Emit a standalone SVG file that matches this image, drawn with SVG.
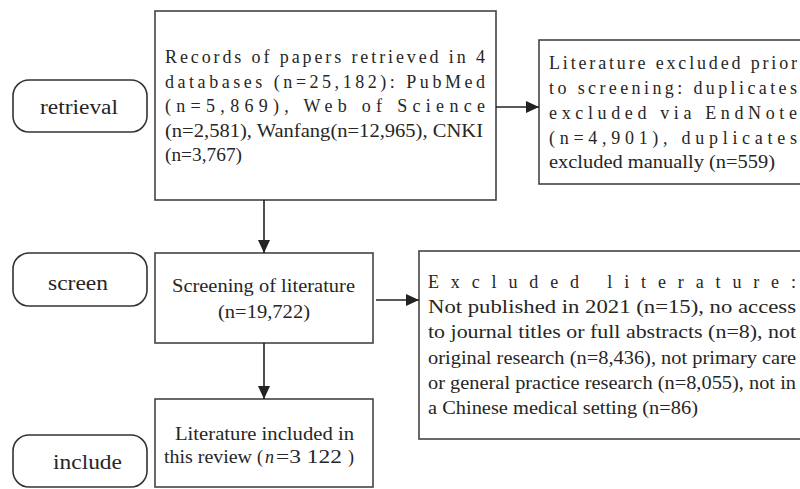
<svg xmlns="http://www.w3.org/2000/svg" width="800" height="489" viewBox="0 0 800 489">
<style>
.box{fill:#fff;stroke:#444;stroke-width:1.6}
.pill{fill:#fff;stroke:#333;stroke-width:1.6}
.t{font-family:"Liberation Serif","Times New Roman",serif;font-size:18px;fill:#262626}
.p{font-family:"Liberation Serif","Times New Roman",serif;font-size:20px;fill:#262626}
.c{stroke:#222;stroke-width:1.6;fill:none}
</style>
<defs>
<marker id="ah" markerWidth="14" markerHeight="12" refX="13" refY="6" orient="auto" markerUnits="userSpaceOnUse">
<path d="M0,0 L13,6 L0,12 Z" fill="#222"/>
</marker>
</defs>
<rect width="800" height="489" fill="#fff"/>
<g id="retrieval">
<rect class="pill" x="13" y="80" width="134" height="52" rx="16"/>
<text class="p" x="40" y="114" textLength="78" lengthAdjust="spacingAndGlyphs">retrieval</text>
</g>
<g id="screen">
<rect class="pill" x="13" y="253" width="134" height="53" rx="16"/>
<text class="p" x="48" y="290" textLength="60" lengthAdjust="spacingAndGlyphs">screen</text>
</g>
<g id="include">
<rect class="pill" x="13" y="435" width="134" height="52" rx="16"/>
<text class="p" x="53" y="469" textLength="69" lengthAdjust="spacingAndGlyphs">include</text>
</g>
<g id="records">
<rect class="box" x="155" y="11" width="341" height="189"/>
<text class="t" x="165" y="63" textLength="320" lengthAdjust="spacing">Records of papers retrieved in 4</text>
<text class="t" x="165" y="88" textLength="320" lengthAdjust="spacing">databases (n=25,182): PubMed</text>
<text class="t" x="165" y="112" textLength="320" lengthAdjust="spacing">(n=5,869), Web of Science</text>
<text class="t" x="165" y="137" textLength="318" lengthAdjust="spacingAndGlyphs">(n=2,581), Wanfang(n=12,965), CNKI</text>
<text class="t" x="165" y="161" textLength="77" lengthAdjust="spacingAndGlyphs">(n=3,767)</text>
</g>
<g id="excluded-prior">
<rect class="box" x="539" y="40" width="275" height="144"/>
<text class="t" x="549" y="69" textLength="248" lengthAdjust="spacing">Literature excluded prior</text>
<text class="t" x="549" y="94" textLength="248" lengthAdjust="spacing">to screening: duplicates</text>
<text class="t" x="549" y="119" textLength="248" lengthAdjust="spacing">excluded via EndNote</text>
<text class="t" x="549" y="144" textLength="248" lengthAdjust="spacing">(n=4,901), duplicates</text>
<text class="t" x="549" y="168" textLength="226" lengthAdjust="spacingAndGlyphs">excluded manually (n=559)</text>
</g>
<g id="screening">
<rect class="box" x="155" y="253" width="218" height="90"/>
<text class="t" x="172" y="292" textLength="183" lengthAdjust="spacingAndGlyphs">Screening of literature</text>
<text class="t" x="218" y="318" textLength="92" lengthAdjust="spacingAndGlyphs">(n=19,722)</text>
</g>
<g id="excluded">
<rect class="box" x="419" y="251" width="395" height="188"/>
<text class="t" x="428" y="288" textLength="368" lengthAdjust="spacing">Excluded literature:</text>
<text class="t" x="428" y="313" textLength="368" lengthAdjust="spacingAndGlyphs">Not published in 2021 (n=15), no access</text>
<text class="t" x="428" y="338" textLength="368" lengthAdjust="spacingAndGlyphs">to journal titles or full abstracts (n=8), not</text>
<text class="t" x="428" y="364" textLength="368" lengthAdjust="spacingAndGlyphs">original research (n=8,436), not primary care</text>
<text class="t" x="428" y="389" textLength="368" lengthAdjust="spacingAndGlyphs">or general practice research (n=8,055), not in</text>
<text class="t" x="428" y="414" textLength="270" lengthAdjust="spacingAndGlyphs">a Chinese medical setting (n=86)</text>
</g>
<g id="included">
<rect class="box" x="155" y="399" width="218" height="88"/>
<text class="t" x="175" y="440" textLength="179" lengthAdjust="spacingAndGlyphs">Literature included in</text>
<text class="t" x="164" y="463" textLength="88" lengthAdjust="spacingAndGlyphs">this review</text>
<text class="t" x="257" y="463">(</text>
<text class="t" x="265" y="463" font-style="italic">n</text>
<text class="t" x="276" y="463" textLength="66" lengthAdjust="spacingAndGlyphs">=3 122</text>
<text class="t" x="348" y="463">)</text>
</g>
<g id="connectors">
<line class="c" x1="496" y1="107" x2="539" y2="107" marker-end="url(#ah)"/>
<line class="c" x1="264" y1="200" x2="264" y2="253" marker-end="url(#ah)"/>
<line class="c" x1="376" y1="300" x2="419" y2="300" marker-end="url(#ah)"/>
<line class="c" x1="264" y1="343" x2="264" y2="399" marker-end="url(#ah)"/>
</g>
</svg>
